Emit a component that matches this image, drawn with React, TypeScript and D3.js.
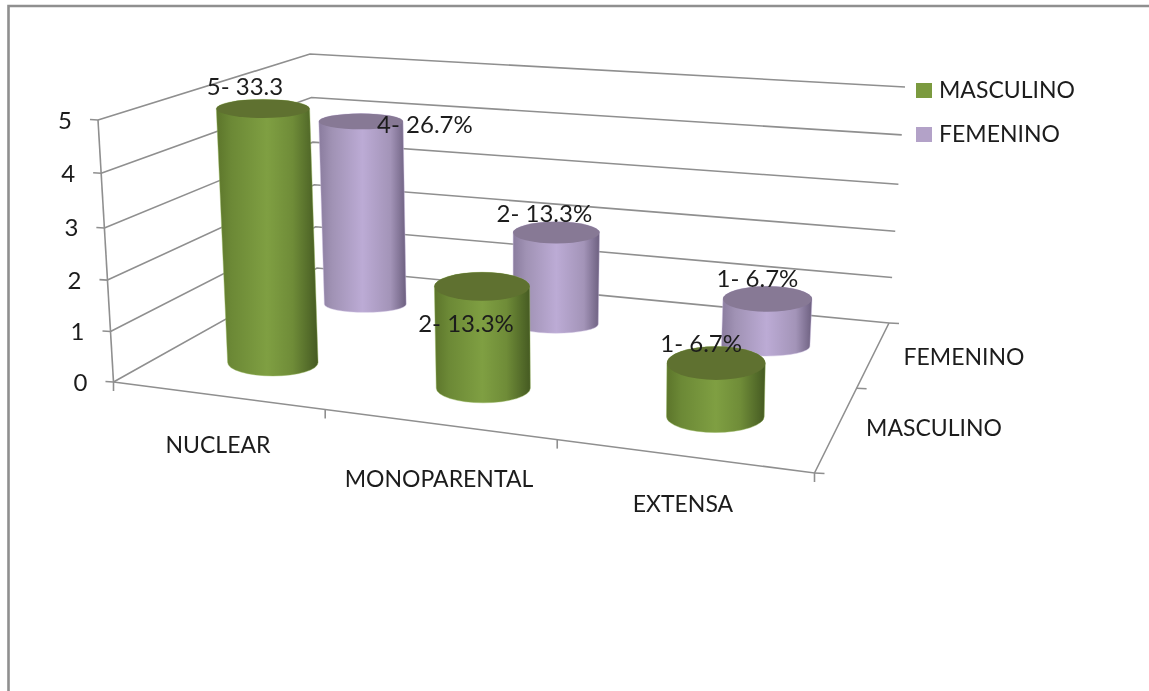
import React from "react";
import * as d3 from "d3";

// ---------- data ----------
const categories = ["NUCLEAR", "MONOPARENTAL", "EXTENSA"];
const seriesNames = ["FEMENINO", "MASCULINO"];
const masculino = [5, 2, 1];
const femenino = [4, 2, 1];
const masculinoLabels = ["5- 33.3", "2- 13.3%", "1- 6.7%"];
const femeninoLabels = ["4- 26.7%", "2- 13.3%", "1- 6.7%"];
const valueTicks = [0, 1, 2, 3, 4, 5];

// ---------- layout ----------
const W = 1149, H = 691;
type P = [number, number];
const floorFL: P = [113.5, 382], floorFR: P = [814.5, 473], floorBL: P = [317, 268], floorBR: P = [889, 323];
const topFL: P = [98, 120], topFR: P = [819, 235], topBL: P = [310, 54], topBR: P = [905, 87];
const uScale = d3.scaleLinear().domain([0, 1, 2, 3]).range([0, 0.302, 0.633, 1]);
const vScale = d3.scaleLinear().domain([0, 1]).range([0.28, 0.77]); // 0 = masculino (front), 1 = femenino
const hScale = d3.scaleLinear().domain(valueTicks).range([0, 0.193, 0.389, 0.588, 0.797, 1]);
const halfWidth = d3.scaleLinear().domain([0, 2]).range([0.068, 0.0735]);
const depthTicks = [0, 0.565, 1];

const mix = (a: P, b: P, t: number): P => [a[0] + (b[0] - a[0]) * t, a[1] + (b[1] - a[1]) * t];
function proj(u: number, v: number, h: number): P {
  const floor = mix(mix(floorFL, floorFR, u), mix(floorBL, floorBR, u), v);
  const top = mix(mix(topFL, topFR, u), mix(topBL, topBR, u), v);
  return mix(floor, top, h);
}
const line = d3.line<P>();

const greenStyle = { id: "g", top: "#5f7130", edge: "#94b35a", ry: [0.112, 0.118], swatch: "#7b9a3f", uShift: 0.003, lift: 7 };
const purpleStyle = { id: "p", top: "#877995", edge: "#cdbfe0", ry: [0.068, 0.09], swatch: "#b3a2c8", uShift: 0.007, lift: 2 };

const labelOffsets = {
  m: [[-18, -23], [-16, 36], [-15, -21]] as P[],
  f: [[64, 2], [-12, -20], [-10, -22]] as P[],
};
const catLabelPos: P[] = [[218, 443.5], [439, 477.5], [683, 502.5]];
const serLabelPos: P[] = [[964, 355.5], [934, 426.5]];

const FONT = "Lato, 'Open Sans', sans-serif";
const TXT = "#1c1c1c";
const GRID = "#8f8f8f";

const barCenter = (i: number, style: typeof greenStyle) => (uScale(i) + uScale(i + 1)) / 2 + style.uShift;

function Cylinder({ i, sIdx, value, style }: { i: number; sIdx: number; value: number; style: typeof greenStyle }) {
  const u = barCenter(i, style);
  const v = vScale(sIdx);
  const h = hScale(value);
  const du = halfWidth(i);
  const ell = (hh: number, ryK: number, lift: number) => {
    const c = proj(u, v, hh);
    const l = proj(u - du, v, hh), r = proj(u + du, v, hh);
    const d = proj(u, 0, hh)[1] - proj(u, 1, hh)[1];
    return { cx: c[0], cy: c[1] - lift, rx: (r[0] - l[0]) / 2, ry: d * ryK };
  };
  const b = ell(0, style.ry[0], 0);
  const t = ell(h, style.ry[1], style.lift);
  const d =
    `M${t.cx - t.rx},${t.cy} L${b.cx - b.rx},${b.cy} ` +
    `A${b.rx},${b.ry} 0 0 0 ${b.cx + b.rx},${b.cy} ` +
    `L${t.cx + t.rx},${t.cy} ` +
    `A${t.rx},${t.ry} 0 0 0 ${t.cx - t.rx},${t.cy} Z`;
  const gid = style.id === "g" ? "gradG" : "gradP";
  return (
    <g>
      <path d={d} fill={`url(#${gid})`} stroke={style.edge} strokeWidth={0.8} strokeOpacity={0.55} />
      <ellipse cx={t.cx} cy={t.cy} rx={t.rx} ry={t.ry} fill={style.top} />
    </g>
  );
}

export default function App() {
  const labelAt = (i: number, sIdx: number, value: number, off: P, style: typeof greenStyle): P => {
    const c = proj(barCenter(i, style), vScale(sIdx), hScale(value));
    return [c[0] + off[0], c[1] - style.lift + off[1]];
  };
  const txt = { fontFamily: FONT, fontSize: 23, fill: TXT, dominantBaseline: "central" as const, textAnchor: "middle" as const };
  const dataTxt = { ...txt, fontSize: 24 };
  return (
    <svg width={W} height={H} viewBox={`0 0 ${W} ${H}`} style={{ position: "absolute", left: 0, top: 0, background: "#fff", filter: "blur(0.45px)" }}>
      <defs>
        <linearGradient id="gradG" x1="0" x2="1" y1="0" y2="0">
          <stop offset="0" stopColor="#5c752b" />
          <stop offset="0.15" stopColor="#6c8936" />
          <stop offset="0.5" stopColor="#7f9f42" />
          <stop offset="0.75" stopColor="#6f8c38" />
          <stop offset="1" stopColor="#455a22" />
        </linearGradient>
        <linearGradient id="gradP" x1="0" x2="1" y1="0" y2="0">
          <stop offset="0" stopColor="#8a7c9e" />
          <stop offset="0.15" stopColor="#a092b4" />
          <stop offset="0.5" stopColor="#bcabd5" />
          <stop offset="0.82" stopColor="#a394b8" />
          <stop offset="1" stopColor="#6d6080" />
        </linearGradient>
      </defs>

      {/* outer frame */}
      <path d={`M8.5,${H} L8.5,6 L${W},6`} fill="none" stroke="#8f8f8f" strokeWidth={2.6} />

      {/* walls */}
      <g stroke={GRID} strokeWidth={1.6} fill="none">
        {valueTicks.map((t) => (
          <path key={t} d={line([proj(0, 0, hScale(t)), proj(0, 1, hScale(t)), proj(1, 1, hScale(t))])!} />
        ))}
        <path d={line([proj(0, 0, 0), proj(0, 0, 1)])!} />
        <path d={line([proj(0, 0, 0), proj(1, 0, 0), proj(1, 1, 0)])!} />
        {valueTicks.map((t) => {
          const p = proj(0, 0, hScale(t));
          return <path key={t} d={line([[p[0] - 8, p[1] - 0.5], p])!} />;
        })}
        {[0, 1, 2, 3].map((i) => {
          const p = proj(uScale(i), 0, 0);
          return <path key={i} d={line([p, [p[0], p[1] + 9]])!} />;
        })}
        {depthTicks.map((v) => {
          const p = proj(1, v, 0);
          return <path key={v} d={line([p, [p[0] + 10, p[1] + 0.5]])!} />;
        })}
      </g>

      {/* bars, back row first */}
      {femenino.map((val, i) => <Cylinder key={i} i={i} sIdx={1} value={val} style={purpleStyle} />)}
      {masculino.map((val, i) => <Cylinder key={i} i={i} sIdx={0} value={val} style={greenStyle} />)}

      {/* axis labels */}
      {valueTicks.map((t) => {
        const p = proj(0, 0, hScale(t));
        return <text key={t} {...dataTxt} x={p[0] - 33} y={p[1] - 1}>{t}</text>;
      })}
      {categories.map((c, i) => <text key={c} {...txt} x={catLabelPos[i][0]} y={catLabelPos[i][1]}>{c}</text>)}
      {seriesNames.map((s, i) => <text key={s} {...txt} x={serLabelPos[i][0]} y={serLabelPos[i][1]}>{s}</text>)}

      {/* data labels */}
      {masculinoLabels.map((l, i) => {
        const p = labelAt(i, 0, masculino[i], labelOffsets.m[i], greenStyle);
        return <text key={i} {...dataTxt} x={p[0]} y={p[1]}>{l}</text>;
      })}
      {femeninoLabels.map((l, i) => {
        const p = labelAt(i, 1, femenino[i], labelOffsets.f[i], purpleStyle);
        return <text key={i} {...dataTxt} x={p[0]} y={p[1]}>{l}</text>;
      })}

      {/* legend */}
      {[
        { name: seriesNames[1], color: greenStyle.swatch, y: 90.5 },
        { name: seriesNames[0], color: purpleStyle.swatch, y: 134.5 },
      ].map((e) => (
        <g key={e.name}>
          <rect x={916} y={e.y - 7.5} width={16} height={15} fill={e.color} />
          <text {...txt} textAnchor="start" x={939} y={e.y - 1.5}>{e.name}</text>
        </g>
      ))}
    </svg>
  );
}
